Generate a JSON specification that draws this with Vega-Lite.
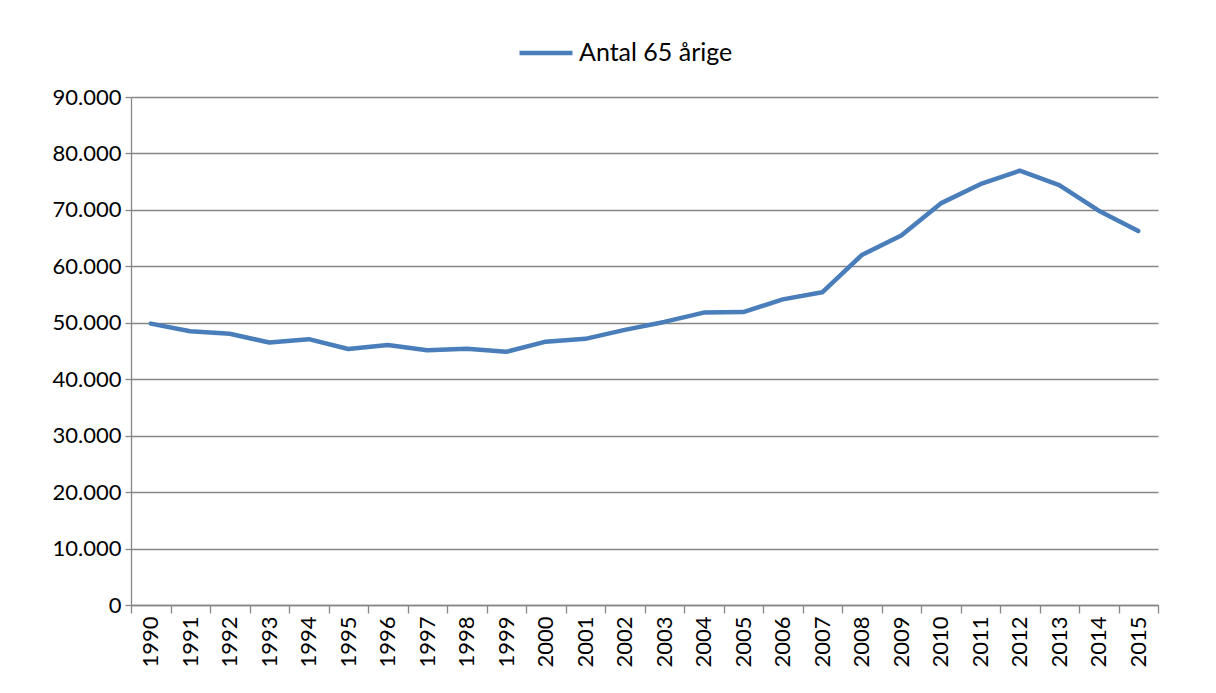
{
  "$schema": "https://vega.github.io/schema/vega-lite/v6.json",
  "width": 1027,
  "height": 508,
  "autosize": {"type": "none"},
  "padding": {"left": 131, "top": 97, "right": 58, "bottom": 88},
  "background": "white",
  "config": {
    "font": "Lato",
    "view": {"stroke": null},
    "axis": {"labelFont": "Lato", "labelColor": "black", "labelFontSize": 22, "domainColor": "#868686", "tickColor": "#868686", "gridColor": "#868686", "title": null}
  },
  "data": {
    "values": [
      {"year": "1990", "value": 49850, "serie": "Antal 65 årige"},
      {"year": "1991", "value": 48500, "serie": "Antal 65 årige"},
      {"year": "1992", "value": 48050, "serie": "Antal 65 årige"},
      {"year": "1993", "value": 46500, "serie": "Antal 65 årige"},
      {"year": "1994", "value": 47100, "serie": "Antal 65 årige"},
      {"year": "1995", "value": 45350, "serie": "Antal 65 årige"},
      {"year": "1996", "value": 46050, "serie": "Antal 65 årige"},
      {"year": "1997", "value": 45150, "serie": "Antal 65 årige"},
      {"year": "1998", "value": 45400, "serie": "Antal 65 årige"},
      {"year": "1999", "value": 44850, "serie": "Antal 65 årige"},
      {"year": "2000", "value": 46650, "serie": "Antal 65 årige"},
      {"year": "2001", "value": 47150, "serie": "Antal 65 årige"},
      {"year": "2002", "value": 48750, "serie": "Antal 65 årige"},
      {"year": "2003", "value": 50150, "serie": "Antal 65 årige"},
      {"year": "2004", "value": 51800, "serie": "Antal 65 årige"},
      {"year": "2005", "value": 51900, "serie": "Antal 65 årige"},
      {"year": "2006", "value": 54150, "serie": "Antal 65 årige"},
      {"year": "2007", "value": 55400, "serie": "Antal 65 årige"},
      {"year": "2008", "value": 62000, "serie": "Antal 65 årige"},
      {"year": "2009", "value": 65450, "serie": "Antal 65 årige"},
      {"year": "2010", "value": 71150, "serie": "Antal 65 årige"},
      {"year": "2011", "value": 74550, "serie": "Antal 65 årige"},
      {"year": "2012", "value": 76950, "serie": "Antal 65 årige"},
      {"year": "2013", "value": 74400, "serie": "Antal 65 årige"},
      {"year": "2014", "value": 69850, "serie": "Antal 65 årige"},
      {"year": "2015", "value": 66250, "serie": "Antal 65 årige"}
    ]
  },
  "mark": {"type": "line", "strokeWidth": 4.5, "strokeCap": "round", "strokeJoin": "round"},
  "encoding": {
    "x": {
      "field": "year", "type": "ordinal",
      "bandPosition": 0.5,
      "scale": {"type": "band", "paddingInner": 0, "paddingOuter": 0},
      "axis": {"labelAngle": -90, "labelAlign": "right", "labelBaseline": "middle", "tickBand": "extent", "tickSize": 8, "labelPadding": 3, "domainWidth": 1.3, "tickWidth": 1.3, "grid": false}
    },
    "y": {
      "field": "value", "type": "quantitative",
      "scale": {"domain": [0, 90000]},
      "axis": {"values": [0, 10000, 20000, 30000, 40000, 50000, 60000, 70000, 80000, 90000], "labelExpr": "replace(format(datum.value, ','), ',', '.')", "tickSize": 6, "labelPadding": 4, "grid": true, "gridWidth": 1.3, "domainWidth": 1.3, "tickWidth": 1.3}
    },
    "color": {
      "field": "serie", "type": "nominal",
      "scale": {"range": ["#4a7ebb"]},
      "legend": {"orient": "none", "legendX": 386, "legendY": -73, "title": null, "symbolType": "stroke", "symbolSize": 2809, "symbolStrokeWidth": 4.5, "labelFont": "Lato", "labelFontSize": 25, "labelColor": "black", "labelOffset": 4}
    }
  }
}
